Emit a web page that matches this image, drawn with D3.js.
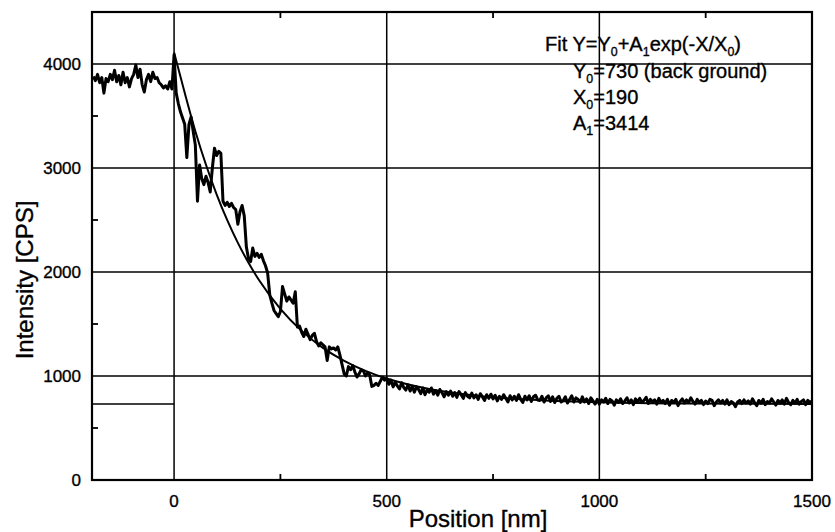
<!DOCTYPE html>
<html>
<head>
<meta charset="utf-8">
<script src="https://cdn.jsdelivr.net/npm/d3@7"></script>
<style>
  html, body { margin: 0; padding: 0; background: #fff; }
  svg { display: block; font-family: "Liberation Sans", Arial, Helvetica, sans-serif; }
</style>
</head>
<body>
<svg id="chart" width="835" height="532"></svg>
<script>
// ---------------- data ----------------
const xStart = -190, xStep = 5;
const preEdge = [3880,3840,3900,3820,3870,3720,3860,3830,3900,3850,3940,3830,3890,3800,3920,3820,3870,3780,3860,3900,
  3990,3870,3950,3800,3730,3850,3900,3830,3920,3860,3870,3820,3800,3770,3790,3760,3830,3760];
const decay = [4090,3720,3620,3540,3480,3420,3100,3420,3490,3350,
  3220,2680,3030,2900,2840,2920,2860,2770,3000,3190,
  3120,3160,3140,2680,2640,2670,2630,2660,2620,2600,
  2460,2580,2640,2540,2240,2130,2100,2230,2150,2180,
  2140,2170,2110,2060,1990,1780,1700,1630,1600,1570,
  1620,1860,1790,1720,1760,1730,1700,1810,1470,1480,
  1420,1380,1450,1400,1350,1390,1410,1330,1290,1320,
  1300,1280,1150,1280,1260,1270,1250,1280,1200,1110,
  1020,1000,1090,1060,1100,1040,990,1020,1060,1050,
  1000,1030,1010,900,910,930,910,950,990,960];
const tail = [975,920,960,895,940,905,875,935,890,865,
  915,855,900,845,895,870,830,885,820,865,
  845,885,825,860,815,870,840,800,850,815,
  855,805,840,795,850,820,785,840,805,790,
  835,790,820,775,830,800,765,820,785,825,
  780,815,760,805,775,820,785,750,810,770,
  805,765,820,775,745,805,770,810,755,800,
  815,770,765,805,750,790,810,755,800,745,
  785,805,750,765,800,740,775,810,750,790,
  775,745,800,750,780,735,790,760,730,775,
  730,770,750,785,735,775,760,720,770,745,
  780,735,760,790,740,770,725,780,750,785,
  745,765,795,735,775,750,770,730,785,745,
  765,735,775,720,765,745,775,715,755,780,
  740,770,745,790,755,730,775,745,765,725,
  760,735,775,765,715,750,770,740,765,730,
  770,725,755,740,705,750,765,735,770,740,
  760,730,780,745,715,765,740,775,725,755,
  740,780,750,720,765,740,770,730,785,745,
  725,765,740,775,730,755,770,725,765,745,
  760];
const intensity = preEdge.concat(decay, tail);

const fitX = [0,25,50,75,100,125,150,175,200,250,300,350,400,450,500,600,700,800,900,1000,1200,1500];
const fitY = [4110,3723,3354,3031,2747,2498,2280,2089,1921,1646,1434,1271,1146,1050,976,875,816,781,760,748,736,731];

const backgroundLevel = 730;
const xTicks = [0, 500, 1000, 1500];
const yTicks = [0, 1000, 2000, 3000, 4000];
const xMinor = [250, 750, 1250];
const yMinor = [500, 1500, 2500, 3500];
const xGrid = [0, 500, 1000];
const yGrid = [1000, 2000, 3000, 4000];
const xTitle = "Position [nm]";
const yTitle = "Intensity [CPS]";
const fitEquation = [["Fit Y=Y",0],["0",1],["+A",0],["1",1],["exp(-X/X",0],["0",1],[")",0]];
const fitParams = [
  [["Y",0],["0",1],["=730 (back ground)",0]],
  [["X",0],["0",1],["=190",0]],
  [["A",0],["1",1],["=3414",0]]
];

// ---------------- layout ----------------
const L = 92, R = 812, T = 12, B = 480;
const x = d3.scaleLinear().domain([-193, 1500]).range([L, R]);
const y = d3.scaleLinear().domain([0, 4500]).range([B, T]);

const svg = d3.select("#chart");
svg.append("defs").append("clipPath").attr("id", "clip")
  .append("rect").attr("x", L).attr("y", T).attr("width", R - L).attr("height", B - T);

// grid lines
const grid = svg.append("g").attr("stroke", "#000").attr("stroke-width", 1.5);
grid.selectAll("line.v").data(xGrid).join("line")
  .attr("x1", d => x(d)).attr("x2", d => x(d)).attr("y1", T).attr("y2", B);
grid.selectAll("line.h").data(yGrid).join("line")
  .attr("x1", L).attr("x2", R).attr("y1", d => y(d)).attr("y2", d => y(d));
grid.append("line")
  .attr("x1", L).attr("x2", x(0)).attr("y1", y(backgroundLevel)).attr("y2", y(backgroundLevel));

// minor ticks (inward)
const tk = svg.append("g").attr("stroke", "#000").attr("stroke-width", 1.8);
xMinor.forEach(v => {
  tk.append("line").attr("x1", x(v)).attr("x2", x(v)).attr("y1", B).attr("y2", B - 6);
  tk.append("line").attr("x1", x(v)).attr("x2", x(v)).attr("y1", T).attr("y2", T + 6);
});
yMinor.forEach(v => {
  tk.append("line").attr("x1", L).attr("x2", L + 6).attr("y1", y(v)).attr("y2", y(v));
});

// data line
const pts = intensity.map((v, i) => ({ px: xStart + i * xStep, v }));
const g = svg.append("g").attr("clip-path", "url(#clip)");
g.append("path").datum(pts)
  .attr("fill", "none").attr("stroke", "#000").attr("stroke-width", 3)
  .attr("stroke-linejoin", "round")
  .attr("d", d3.line().x(d => x(d.px)).y(d => y(d.v)));

// fit curve
const fitPts = fitX.map((v, i) => ({ px: v, v: fitY[i] }));
g.append("path").datum(fitPts)
  .attr("fill", "none").attr("stroke", "#000").attr("stroke-width", 2)
  .attr("d", d3.line().curve(d3.curveMonotoneX).x(d => x(d.px)).y(d => y(d.v)));

// frame
svg.append("rect").attr("x", L).attr("y", T).attr("width", R - L).attr("height", B - T)
  .attr("fill", "none").attr("stroke", "#000").attr("stroke-width", 2.2);

// text style helper
function ink(sel) { return sel.attr("fill", "#000").attr("stroke", "#000").attr("stroke-width", 0.35); }

// tick labels
ink(svg.append("g").selectAll("text").data(xTicks).join("text")
  .attr("x", d => x(d)).attr("y", 507).attr("text-anchor", "middle")
  .attr("font-size", 17).text(d => d));
ink(svg.append("g").selectAll("text").data(yTicks).join("text")
  .attr("x", 81).attr("y", d => y(d) + 6).attr("text-anchor", "end")
  .attr("font-size", 17).text(d => d));

// axis titles
ink(svg.append("text").attr("x", 478).attr("y", 527).attr("text-anchor", "middle")
  .attr("font-size", 24).text(xTitle));
ink(svg.append("text").attr("transform", "translate(33,280) rotate(-90)").attr("text-anchor", "middle")
  .attr("font-size", 24).text(yTitle));

// fit annotation
function richText(xp, yp, parts, size) {
  const t = ink(svg.append("text").attr("x", xp).attr("y", yp).attr("font-size", size));
  let shifted = false;
  parts.forEach(([s, sub]) => {
    const ts = t.append("tspan").text(s);
    if (sub) { ts.attr("font-size", size * 0.62).attr("dy", shifted ? 0 : 5); shifted = true; }
    else { ts.attr("dy", shifted ? -5 : 0); shifted = false; }
  });
}
richText(545, 51, fitEquation, 20);
fitParams.forEach((p, i) => richText(573, 78 + i * 26, p, 20));
</script>
</body>
</html>
